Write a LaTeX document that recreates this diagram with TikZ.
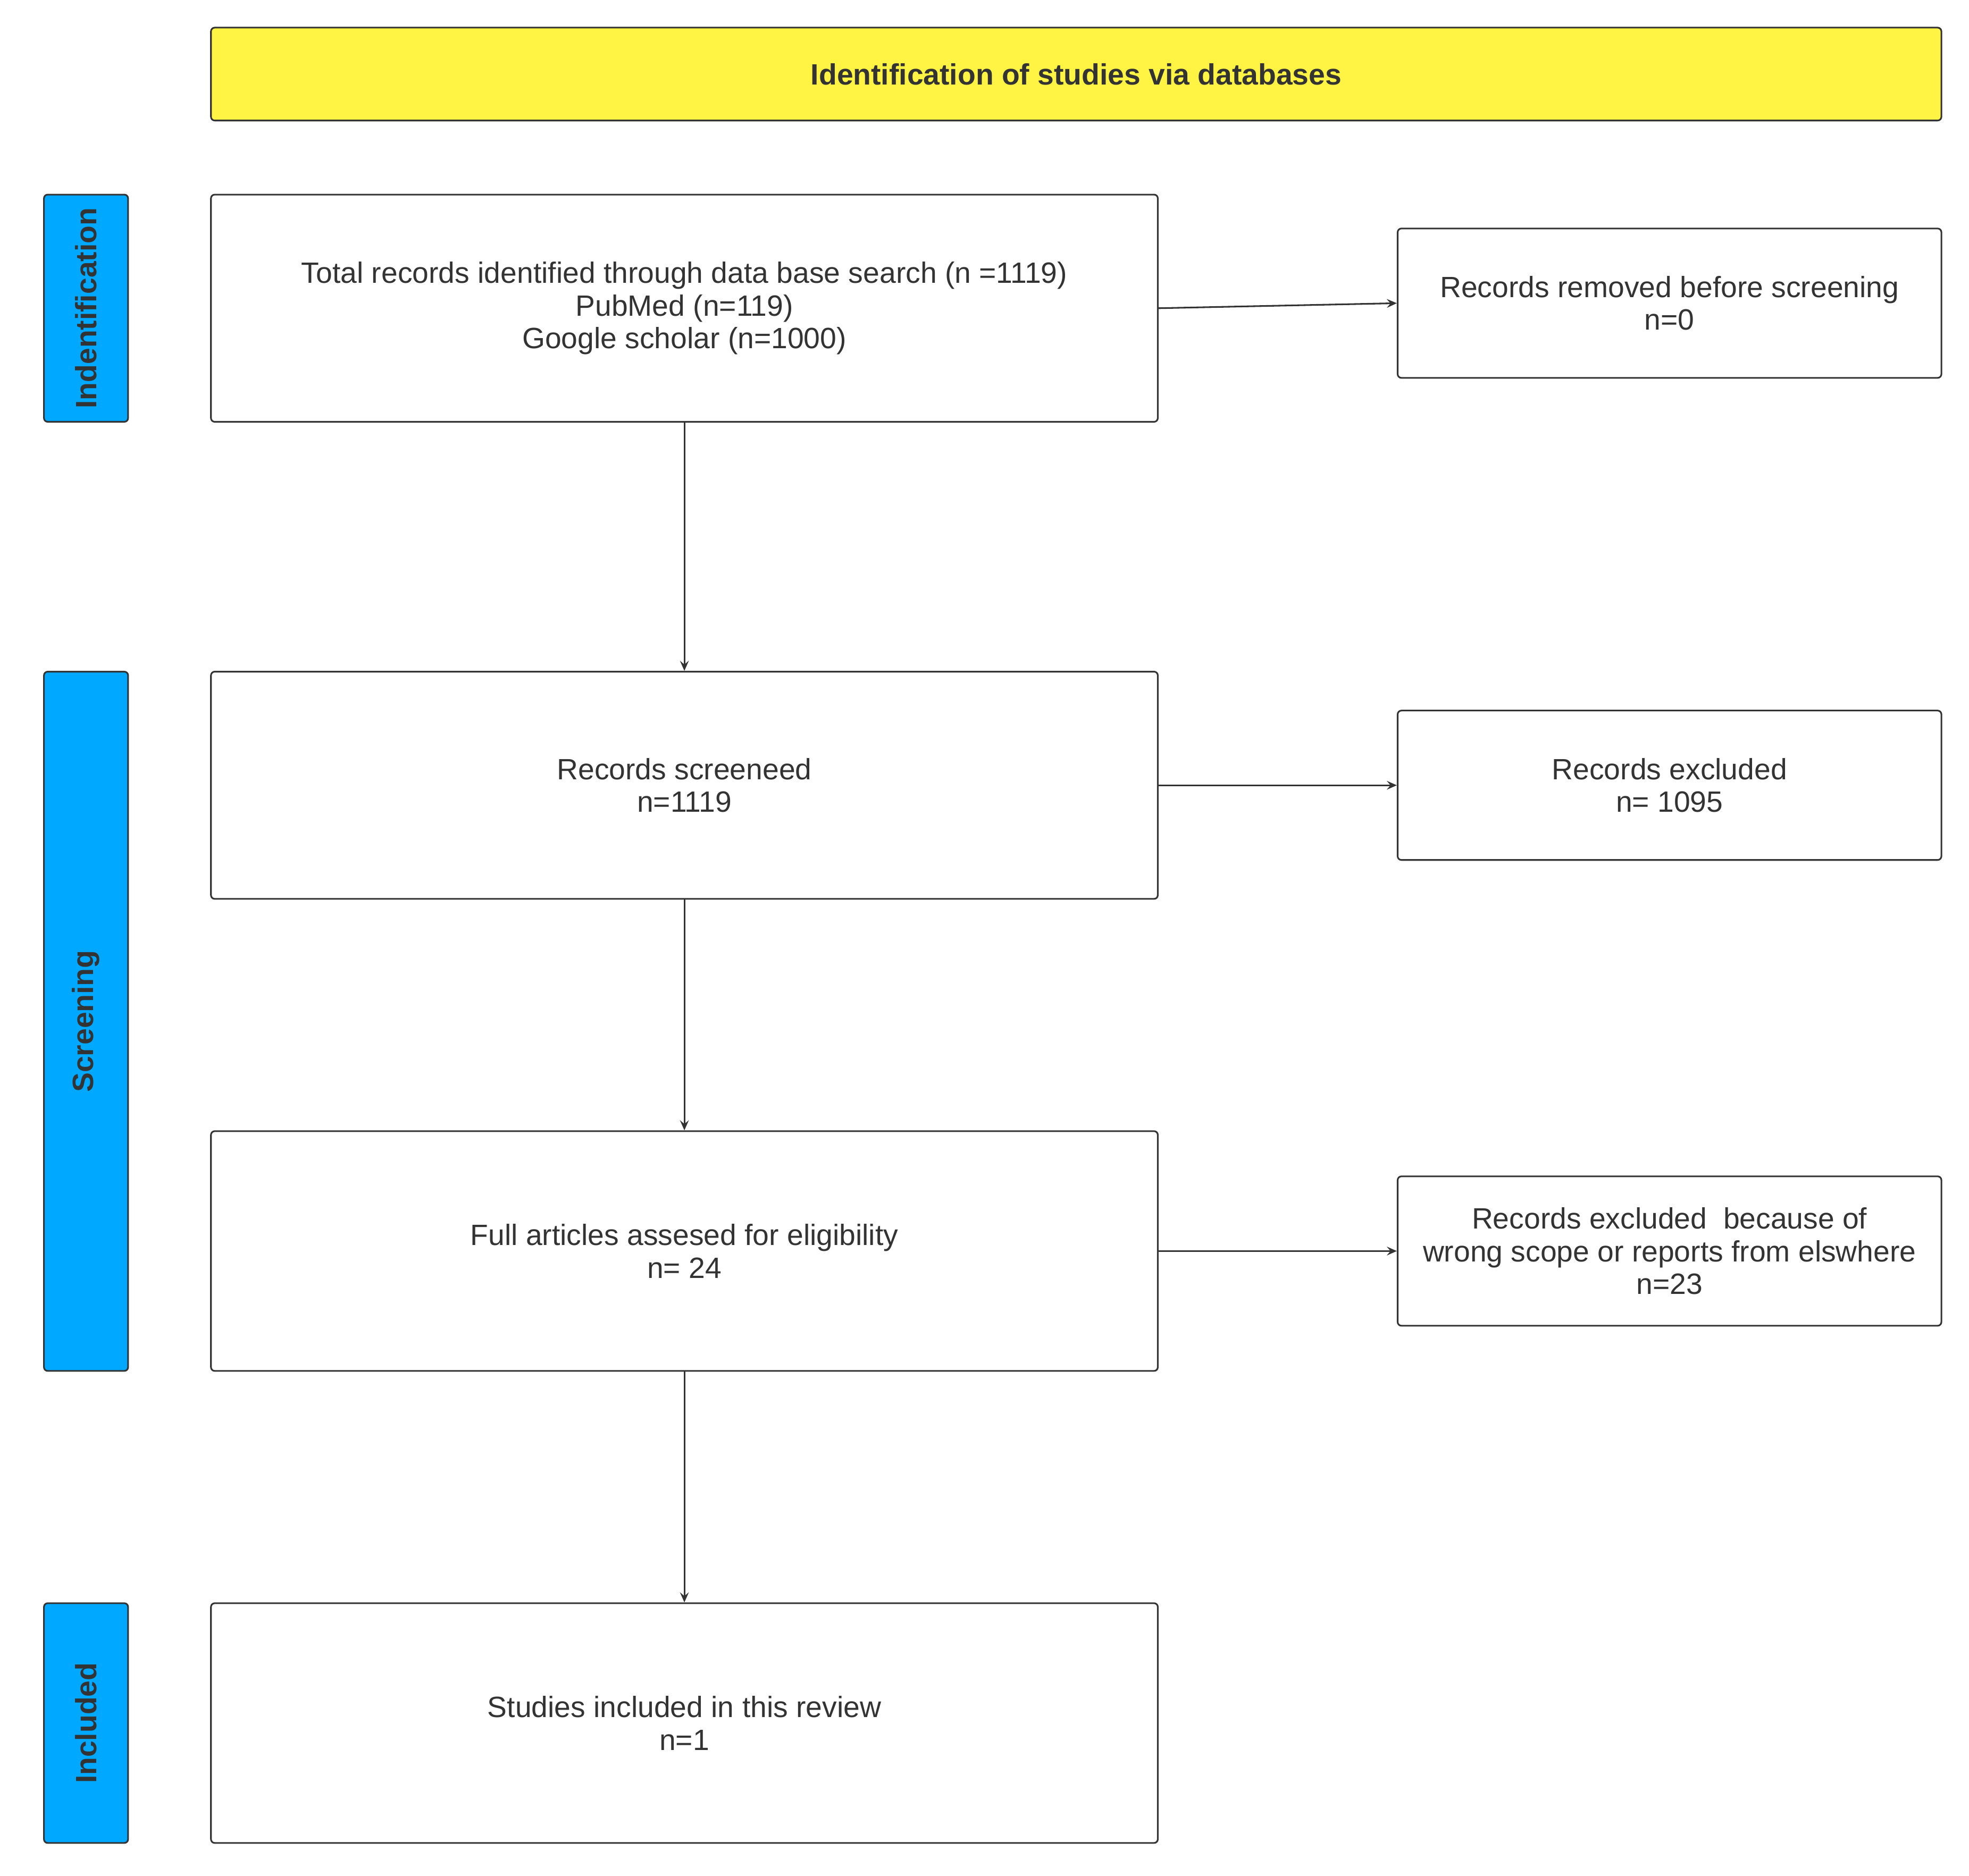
\documentclass[tikz,border=0pt]{standalone}
\usepackage{fontspec}
\setmainfont{Liberation Sans}
\usetikzlibrary{arrows.meta}
\newlength{\du}
\setlength{\du}{1pt}
\definecolor{dialinecolor}{rgb}{0.200000, 0.200000, 0.200000}
\definecolor{diayellow}{rgb}{1.000000, 0.953000, 0.263000}
\definecolor{diablue}{rgb}{0.000000, 0.659000, 1.000000}
\tikzset{
  diabox/.style={draw=dialinecolor, line width=1.3\du, rounded corners=3\du,
    fill=white, text=dialinecolor, align=center, inner sep=0pt,
    font=\fontsize{23.4}{26}\selectfont},
  diaside/.style={diabox, fill=diablue, rotate=90, minimum height=67\du,
    font=\fontsize{23.4}{26}\selectfont\bfseries},
  diaarrow/.style={draw=dialinecolor, line width=1.3\du,
    -{Stealth[length=8pt, width=7pt, inset=3pt]}}
}
\begin{document}
\begin{tikzpicture}[x=1\du, y=-1\du]
\useasboundingbox (0,0) rectangle (1568,1494);
% header
\node[diabox, fill=diayellow, font=\fontsize{23.4}{26}\selectfont\bfseries,
  minimum width=1378\du, minimum height=74\du] (header) at (857,59)
  {Identification of studies via databases};
% phases
\node[diaside, minimum width=181\du] (sideident) at (68.5,245.5) {Indentification};
\node[diaside, minimum width=557\du] (sidescreen) at (68.5,813.5) {Screening};
\node[diaside, minimum width=191\du] (sideincl) at (68.5,1372.5) {Included};
% main column
\node[diabox, minimum width=754\du, minimum height=181\du] (total) at (545,245.5)
  {Total records identified through data base search (n =1119)\\PubMed (n=119)\\Google scholar (n=1000)};
\node[diabox, minimum width=754\du, minimum height=181\du] (screened) at (545,625.5)
  {Records screeneed\\n=1119};
\node[diabox, minimum width=754\du, minimum height=191\du] (full) at (545,996.5)
  {Full articles assesed for eligibility\\n= 24};
\node[diabox, minimum width=754\du, minimum height=191\du] (studies) at (545,1372.5)
  {Studies included in this review\\n=1};
% right column
\node[diabox, minimum width=433\du, minimum height=119\du] (removed) at (1329.5,241.5)
  {Records removed before screening\\n=0};
\node[diabox, minimum width=433\du, minimum height=119\du] (excluded) at (1329.5,625.5)
  {Records excluded\\n= 1095};
\node[diabox, minimum width=433\du, minimum height=119\du] (scope) at (1329.5,996.5)
  {Records excluded~ because of\\wrong scope or reports from elswhere\\n=23};
% arrows
\draw[diaarrow] (total.east) -- (removed.west);
\draw[diaarrow] (total) -- (screened);
\draw[diaarrow] (screened) -- (excluded);
\draw[diaarrow] (screened) -- (full);
\draw[diaarrow] (full) -- (scope);
\draw[diaarrow] (full) -- (studies);
\end{tikzpicture}
\end{document}
